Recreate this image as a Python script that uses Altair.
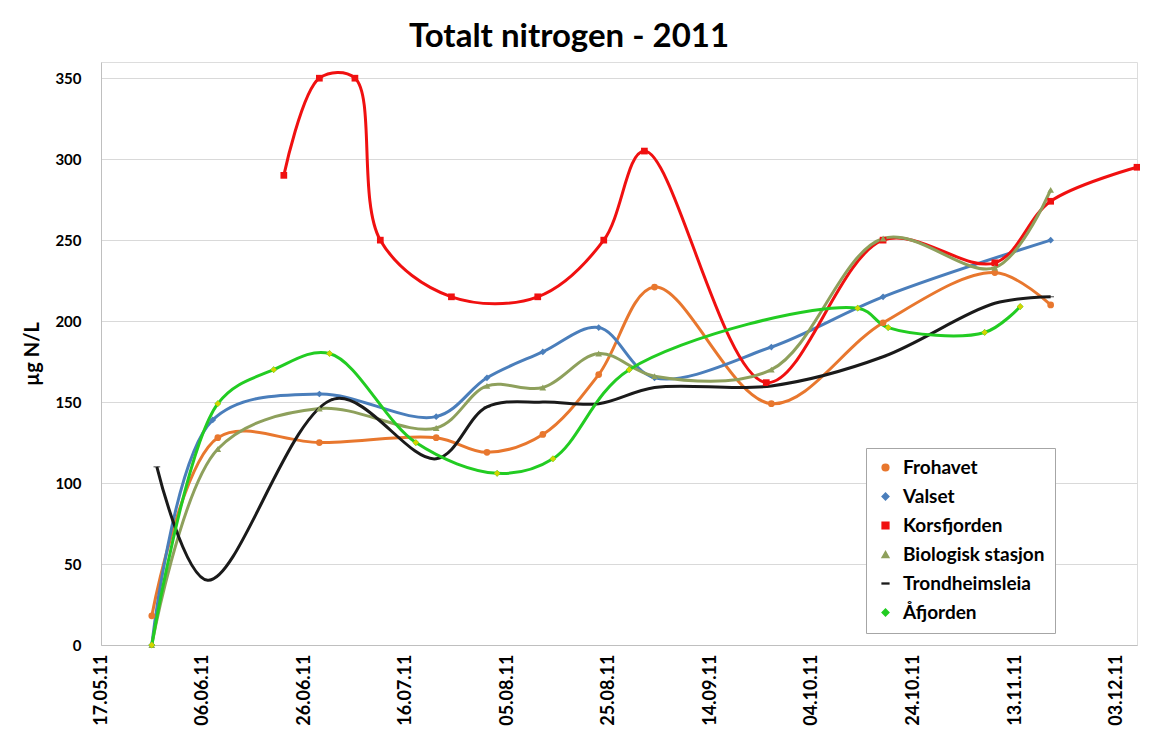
import altair as alt
import pandas as pd

# ---------------- data ----------------
series_names = ["Frohavet", "Valset", "Korsfjorden", "Biologisk stasjon", "Trondheimsleia", "Åfjorden"]
series_colors = ["#E8772E", "#4A7EBB", "#F01010", "#8EA05C", "#1A1A1A", "#22CC22"]
series_shapes = ["circle", "diamond", "square", "triangle-up", "M-1,-0.12H1V0.12H-1Z", "diamond"]
series_sizes = [45, 45, 150, 55, 30, 40]

frohavet_dates = ["2011-05-27", "2011-06-09", "2011-06-29", "2011-07-22", "2011-08-01", "2011-08-12",
                  "2011-08-23", "2011-09-03", "2011-09-26", "2011-10-18", "2011-11-09", "2011-11-20"]
frohavet_vals = [18, 128, 125, 128, 119, 130, 167, 221, 149, 199, 230, 210]

valset_dates = ["2011-05-27", "2011-06-08", "2011-06-29", "2011-07-22", "2011-08-01", "2011-08-12",
                "2011-08-23", "2011-09-03", "2011-09-26", "2011-10-18", "2011-11-20"]
valset_vals = [0, 139, 155, 141, 165, 181, 196, 165, 184, 215, 250]

korsfjorden_dates = ["2011-06-22", "2011-06-29", "2011-07-06", "2011-07-11", "2011-07-25", "2011-08-11",
                     "2011-08-24", "2011-09-01", "2011-09-25", "2011-10-18", "2011-11-09", "2011-11-20",
                     "2011-12-07"]
korsfjorden_vals = [290, 350, 350, 250, 215, 215, 250, 305, 162, 250, 236, 274, 295]

biologisk_dates = ["2011-05-27", "2011-06-09", "2011-06-29", "2011-07-22", "2011-08-01", "2011-08-12",
                   "2011-08-23", "2011-09-03", "2011-09-26", "2011-10-18", "2011-11-09", "2011-11-20"]
biologisk_vals = [0, 121, 146, 134, 160, 159, 180, 166, 170, 251, 233, 281]

trondheim_dates = ["2011-05-28", "2011-06-07", "2011-07-02", "2011-07-22", "2011-08-01", "2011-08-12",
                   "2011-08-23", "2011-09-03", "2011-09-26", "2011-10-18", "2011-11-09", "2011-11-20"]
trondheim_vals = [110, 40, 152, 115, 147, 150, 149, 159, 160, 178, 211, 215]

afjorden_dates = ["2011-05-27", "2011-06-09", "2011-06-20", "2011-07-01", "2011-07-18", "2011-08-03",
                  "2011-08-14", "2011-08-29", "2011-10-13", "2011-10-19", "2011-11-07", "2011-11-14"]
afjorden_vals = [0, 149, 170, 180, 125, 106, 115, 170, 208, 196, 193, 209]

x_tick_dates = ["2011-05-17", "2011-06-06", "2011-06-26", "2011-07-16", "2011-08-05", "2011-08-25",
                "2011-09-14", "2011-10-04", "2011-10-24", "2011-11-13", "2011-12-03"]
x_domain = ["2011-05-17", "2011-12-07"]
y_ticks = [0, 50, 100, 150, 200, 250, 300, 350]

# ---------------- table ----------------
all_dates = [frohavet_dates, valset_dates, korsfjorden_dates, biologisk_dates, trondheim_dates, afjorden_dates]
all_vals = [frohavet_vals, valset_vals, korsfjorden_vals, biologisk_vals, trondheim_vals, afjorden_vals]
rows = []
for name, ds, vs in zip(series_names, all_dates, all_vals):
    for d, v in zip(ds, vs):
        rows.append({"series": name, "date": d + "T00:00:00", "value": v})
df = pd.DataFrame(rows)


def dt(s):
    y, m, d = s.split("-")
    return alt.DateTime(year=int(y), month=int(m), date=int(d))


FONT = "Lato"

x_enc = alt.X(
    "date:T",
    scale=alt.Scale(domain=[dt(s) for s in x_domain]),
    axis=alt.Axis(
        values=[dt(s) for s in x_tick_dates],
        format="%d.%m.%y",
        labelAngle=-90,
        labelFont=FONT,
        labelFontSize=18,
        labelFontWeight="bold",
        labelColor="#000000",
        labelPadding=9,
        grid=False,
        ticks=False,
        domainColor="#BFBFBF",
        title=None,
        labelOverlap=False,
    ),
)
y_enc = alt.Y(
    "value:Q",
    scale=alt.Scale(domain=[0, 360], nice=False),
    axis=alt.Axis(
        values=y_ticks,
        labelFont=FONT,
        labelFontSize=15,
        labelFontWeight="bold",
        labelColor="#000000",
        labelPadding=20,
        ticks=False,
        grid=True,
        gridColor="#D9D9D9",
        domainColor="#BFBFBF",
        title="µg N/L",
        titleFont=FONT,
        titleFontSize=20,
        titleFontWeight="bold",
        titleColor="#000000",
        titlePadding=12,
    ),
)

legend = alt.Legend(
    title=None,
    orient="none",
    legendX=765,
    legendY=386,
    labelFont=FONT,
    labelFontSize=19,
    labelFontWeight="bold",
    labelColor="#000000",
    symbolSize=120,
    rowPadding=9,
    padding=10,
    strokeColor="#A6A6A6",
    fillColor="#FFFFFF",
    labelOffset=8,
)

color_scale = alt.Scale(domain=series_names, range=series_colors)
color_enc = alt.Color("series:N", scale=color_scale, legend=legend, sort=series_names)

lines = alt.Chart(df).mark_line(interpolate="catmull-rom", strokeWidth=3).encode(
    x=x_enc, y=y_enc, color=color_enc, detail="series:N", order="date:T"
)

points = alt.Chart(df).mark_point(filled=True, opacity=1).encode(
    x=x_enc,
    y=y_enc,
    color=color_enc,
    shape=alt.Shape("series:N", scale=alt.Scale(domain=series_names, range=series_shapes), legend=legend,
                    sort=series_names),
    size=alt.Size("series:N", scale=alt.Scale(domain=series_names, range=series_sizes), legend=None),
)

yellow = alt.Chart(df).transform_filter(alt.datum.series == "Åfjorden").mark_point(
    filled=True, opacity=1, color="#D4D400", shape="diamond", size=40
).encode(x=x_enc, y=y_enc)

chart = (
    alt.layer(lines, points, yellow)
    .properties(
        width=1036,
        height=583,
        title=alt.TitleParams(
            "Totalt nitrogen - 2011",
            font=FONT,
            fontSize=33,
            fontWeight="bold",
            color="#000000",
            anchor="middle",
            frame="group",
            dx=-50,
            offset=8,
        ),
        autosize=alt.AutoSizeParams(type="none"),
        padding={"left": 93, "top": 54, "right": 3, "bottom": 92},
    )
    .configure_view(stroke="#C5CAD6", strokeWidth=1)
    .configure(background="#FFFFFF")
)

chart.save("out.html", embed_options={"renderer": "svg", "actions": False})
